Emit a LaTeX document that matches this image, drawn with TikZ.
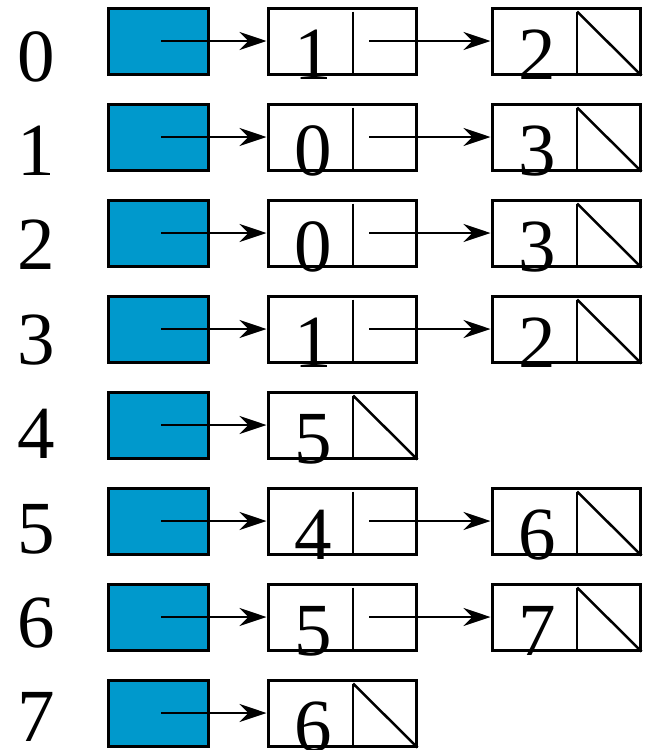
\documentclass[tikz,border=0pt]{standalone}
\usepackage{fontspec}
\setmainfont{Liberation Serif}
\usetikzlibrary{arrows.meta}
\definecolor{headblue}{RGB}{0,153,204}
\tikzset{
  headbox/.style={draw,fill=headblue,line width=3pt,minimum width=100pt,minimum height=66pt,inner sep=0pt},
  cellbox/.style={draw,line width=3pt,minimum width=148pt,minimum height=66pt,inner sep=0pt},
  digit/.style={font=\fontsize{75}{75}\selectfont,inner sep=0pt,anchor=base},
  link/.style={line width=2.5pt,-{Stealth[length=27pt,width=18pt,inset=9pt]}},
  divider/.style={line width=2.5pt},
}
\begin{document}
\begin{tikzpicture}[x=1pt,y=-1pt]
  \useasboundingbox (0,0) rectangle (653,750);
  \foreach \r/\vals/\n in {0/{1,2}/2,1/{0,3}/2,2/{0,3}/2,3/{1,2}/2,4/{5}/1,5/{4,6}/2,6/{5,7}/2,7/{6}/1} {
    \node[digit] (idx\r) at (36,81+94.4*\r) {\r};
    \node[headbox] (head\r) at (158,41+96*\r) {};
    \foreach \v [count=\k] in \vals {
      \node[cellbox] (cell\r-\k) at (118+224*\k,41+96*\r) {};
      \node[digit] (val\r-\k) at ([xshift=-29pt,yshift=-38pt]cell\r-\k.center) {\v};
      \draw[divider] ([xshift=11pt,yshift=-5pt]cell\r-\k.north) -- ([xshift=11pt]cell\r-\k.south);
    }
    \draw[link] ([xshift=3pt]head\r.center) -- (cell\r-1.west);
    \ifnum\n>1 \draw[link] ([xshift=27pt]cell\r-1.center) -- (cell\r-2.west); \fi
    % null pointer
    \draw[divider] ([xshift=11pt,yshift=-5pt]cell\r-\n.north) -- (cell\r-\n.south east);
  }
\end{tikzpicture}
\end{document}
